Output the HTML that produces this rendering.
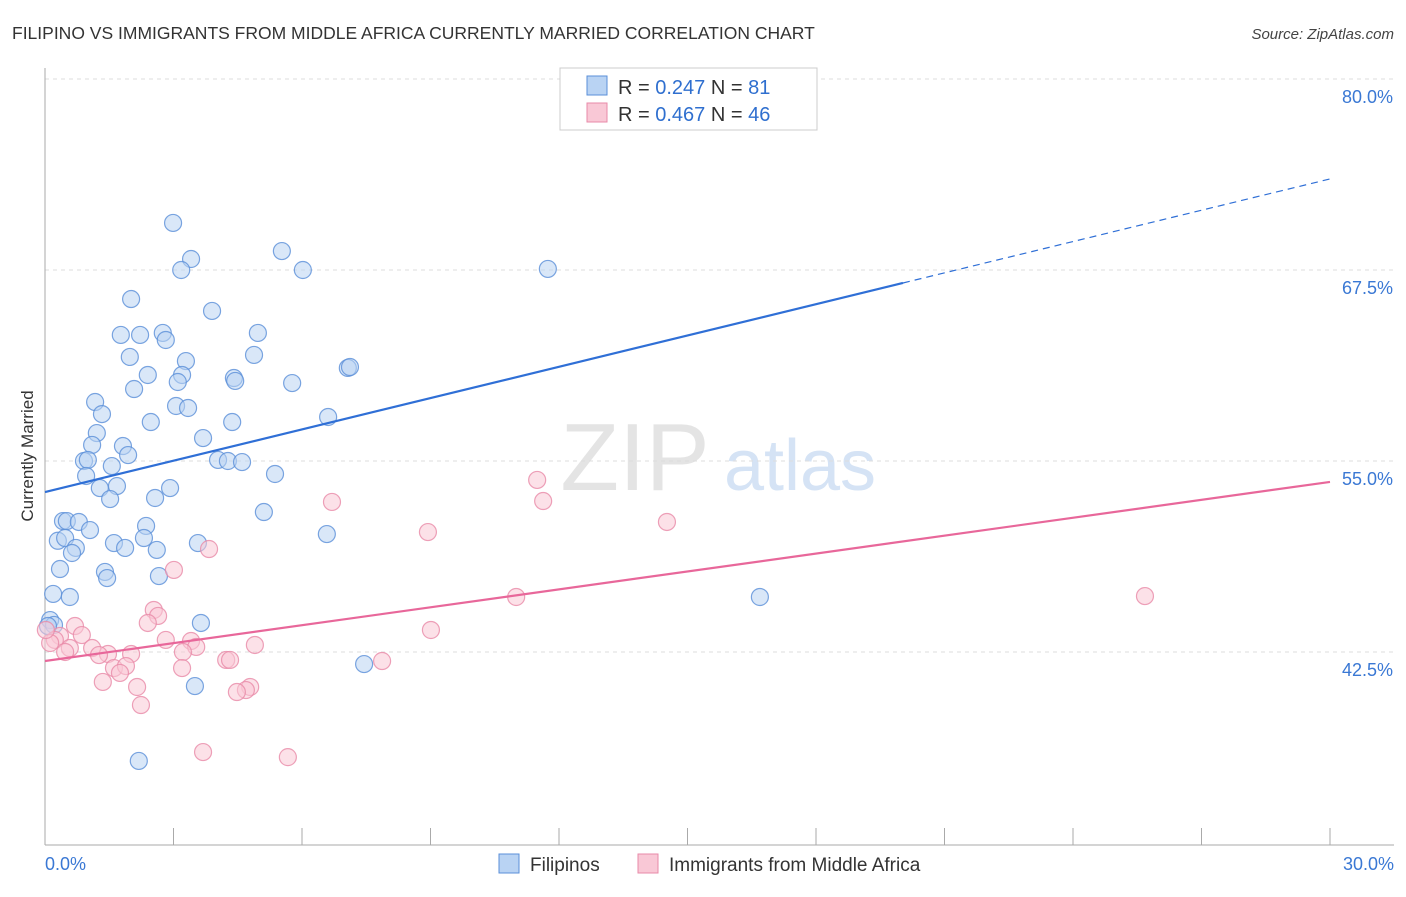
<!DOCTYPE html>
<html><head><meta charset="utf-8">
<style>
body{margin:0;background:#fff;font-family:"Liberation Sans",sans-serif;}
svg text{font-family:"Liberation Sans",sans-serif;}
</style></head>
<body>
<svg id="chart" width="1406" height="892" viewBox="0 0 1406 892" xmlns="http://www.w3.org/2000/svg">
<text x="12" y="39" font-size="17.5" fill="#333">FILIPINO VS IMMIGRANTS FROM MIDDLE AFRICA CURRENTLY MARRIED CORRELATION CHART</text>
<text x="1394" y="39" font-size="15" fill="#444" text-anchor="end" font-style="italic">Source: ZipAtlas.com</text>
<text transform="translate(33,456) rotate(-90)" font-size="17" fill="#333" text-anchor="middle">Currently Married</text>
<g>
<text x="635" y="490" font-size="96" fill="#e4e4e4" text-anchor="middle" font-family="Liberation Serif,serif">ZIP</text>
<text x="800" y="490" font-size="72" fill="#d5e3f5" text-anchor="middle">atlas</text>
</g>
<g id="grid"></g>
<g id="axes"></g>
<g id="pts"></g>
<g id="trends"></g>
<g>
<rect x="560" y="68" width="257" height="62" fill="#fff" stroke="#ccc"/>
<rect x="587" y="76" width="20" height="19" fill="#b9d3f3" stroke="#5a8fd8"/>
<rect x="587" y="103" width="20" height="19" fill="#f9c8d6" stroke="#e88aa8"/>
<text x="618" y="94" font-size="20" fill="#333">R = <tspan fill="#2f6fcf">0.247</tspan>   N = <tspan fill="#2f6fcf"> 81</tspan></text>
<text x="618" y="121" font-size="20" fill="#333">R = <tspan fill="#2f6fcf">0.467</tspan>   N = <tspan fill="#2f6fcf">46</tspan></text>
</g>
<g>
<rect x="499" y="854" width="20" height="19" fill="#b9d3f3" stroke="#5a8fd8"/>
<text x="530" y="871" font-size="19" fill="#333">Filipinos</text>
<rect x="638" y="854" width="20" height="19" fill="#f9c8d6" stroke="#e88aa8"/>
<text x="669" y="871" font-size="19" fill="#333">Immigrants from Middle Africa</text>
</g>
</svg>
<script>
const yTicks=[42.5,55.0,67.5,80.0];
const yTickLabels=["42.5%","55.0%","67.5%","80.0%"];
const xTickLabels=["0.0%","30.0%"];
const blueX=[2.99,3.41,3.18,5.53,6.02,11.74,2.01,3.90,1.77,2.22,2.75,2.82,4.97,1.98,3.29,4.88,2.40,3.20,3.10,4.41,4.44,5.77,7.07,7.12,2.08,1.17,3.06,3.34,1.33,2.47,4.37,6.61,1.21,1.10,1.82,3.69,1.94,0.91,1.00,1.56,4.04,4.27,4.60,0.96,5.37,1.28,1.68,1.52,2.92,2.57,5.11,0.42,0.51,0.79,1.05,2.36,0.30,0.47,2.31,3.57,1.61,1.87,0.72,0.63,2.61,6.58,0.35,1.40,1.45,2.66,0.19,0.58,16.69,0.12,0.21,3.64,7.45,3.50,2.19,0.07];
const blueY=[70.58,68.22,67.50,68.74,67.50,67.57,65.60,64.82,63.25,63.25,63.38,62.92,63.38,61.81,61.54,61.94,60.63,60.63,60.17,60.43,60.24,60.10,61.09,61.15,59.71,58.86,58.60,58.47,58.07,57.55,57.55,57.88,56.83,56.05,55.98,56.50,55.39,55.00,55.07,54.67,55.07,55.00,54.93,54.02,54.15,53.23,53.36,52.51,53.23,52.58,51.66,51.07,51.07,51.01,50.48,50.75,49.78,49.96,49.96,49.63,49.63,49.31,49.31,48.98,49.18,50.22,47.93,47.74,47.34,47.47,46.30,46.10,46.10,44.59,44.27,44.40,41.71,40.27,35.37,44.20];
const pinkX=[11.49,11.63,6.70,14.52,8.94,3.83,3.01,11.00,25.68,2.54,2.64,2.40,0.70,9.01,0.86,0.35,0.23,2.82,3.41,3.53,4.90,0.58,1.10,0.47,1.47,2.01,1.26,3.22,4.23,4.32,7.87,1.61,1.89,1.75,3.20,1.35,2.15,4.79,4.69,4.48,2.24,3.69,5.67,0.12,0.02];
const pinkY=[53.76,52.38,52.32,51.01,50.35,49.24,47.87,46.10,46.16,45.25,44.86,44.40,44.20,43.94,43.61,43.55,43.29,43.29,43.22,42.83,42.96,42.76,42.76,42.50,42.37,42.37,42.30,42.50,41.98,41.98,41.91,41.45,41.58,41.13,41.45,40.54,40.21,40.21,40.01,39.88,39.03,35.95,35.62,43.09,43.94];
const blueTrend=[52.97,73.46];
const pinkTrend=[41.91,53.63];
const NS="http://www.w3.org/2000/svg";
const sx=v=>45+v/30*1285;
const sy=v=>79+(80-v)*15.28;
function mk(tag,attrs,parent){const e=document.createElementNS(NS,tag);for(const k in attrs)e.setAttribute(k,attrs[k]);parent.appendChild(e);return e;}
const grid=document.getElementById('grid'),axes=document.getElementById('axes'),pts=document.getElementById('pts'),tr=document.getElementById('trends');
yTicks.forEach((t,i)=>{
 const l=mk('line',{x1:45,x2:1394,y1:sy(t),y2:sy(t),stroke:'#ddd','stroke-dasharray':'4,4'},grid);
 
 
 const tx=mk('text',{x:1393,y:sy(t)+24,'font-size':18,fill:'#3a78d4','text-anchor':'end'},axes);
 tx.textContent=yTickLabels[i];
 
 
});
const ax=mk('line',{x1:45,x2:45,y1:68,y2:845,stroke:'#aaa'},axes);


const bx=mk('line',{x1:45,x2:1394,y1:845,y2:845,stroke:'#aaa'},axes);


for(let i=0;i<=10;i++){
 const t=mk('line',{x1:sx(i*3),x2:sx(i*3),y1:828,y2:845,stroke:'#aaa'},axes);
 
 
}
[[0,'start',45],[1,'end',1394]].forEach(([i,a,x])=>{
 const t=mk('text',{x:x,y:870,'font-size':18,fill:'#3a78d4','text-anchor':a},axes);
 t.textContent=xTickLabels[i];
 
 
});
function dots(X,Y,fill,stroke,name){
 X.forEach((x,i)=>{
  const c=mk('circle',{cx:sx(x),cy:sy(Y[i]),r:8.5,fill:fill,'fill-opacity':0.55,stroke:stroke,'stroke-opacity':0.8,'stroke-width':1.2},pts);
  
  
 });
}
dots(blueX,blueY,'#b9d3f3','#5a8fd8','filipino-point');
dots(pinkX,pinkY,'#f9c8d6','#e88aa8','middle-africa-point');
const bAt=x=>blueTrend[0]+(blueTrend[1]-blueTrend[0])*x/30;
let l1=mk('line',{x1:sx(0),y1:sy(bAt(0)),x2:sx(20.03),y2:sy(bAt(20.03)),stroke:'#2f6fd6','stroke-width':2.2},tr);


let l2=mk('line',{x1:sx(20.03),y1:sy(bAt(20.03)),x2:sx(30),y2:sy(bAt(30)),stroke:'#2f6fd6','stroke-width':1.2,'stroke-dasharray':'7,5'},tr);


let l3=mk('line',{x1:sx(0),y1:sy(pinkTrend[0]),x2:sx(30),y2:sy(pinkTrend[1]),stroke:'#e8679a','stroke-width':2.2},tr);


</script>
</body></html>
